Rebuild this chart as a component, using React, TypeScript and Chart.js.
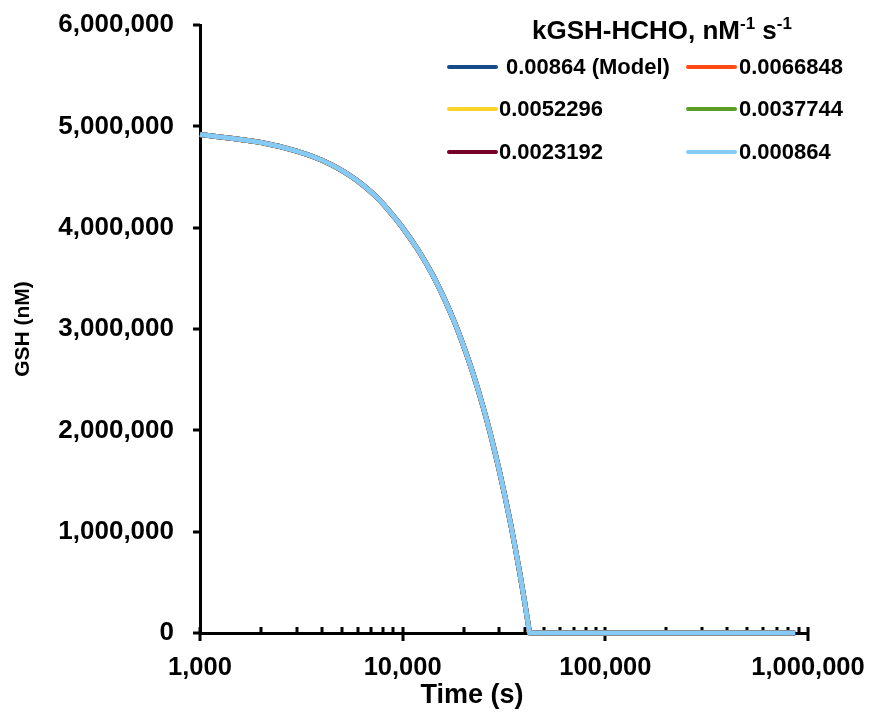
import { useEffect, useRef } from "react";
import { Chart, registerables } from "chart.js";

Chart.register(...registerables);

// Simulated time points (s)
const timeSeconds = [
  1000, 2000, 3000, 4000, 5000, 6000, 7000, 8000, 9000, 10000,
  12000, 14000, 16000, 18000, 20000, 22000, 24000, 26000, 28000, 30000,
  32000, 34000, 36000, 38000, 40000, 42000, 42300, 50000, 100000, 200000,
  500000, 864000,
];

// GSH (nM); the six rate-constant runs coincide over this range
const gshNanomolar = [
  4920000, 4840000, 4755000, 4665000, 4565000, 4460000, 4350000, 4235000, 4115000, 4000000,
  3770000, 3540000, 3305000, 3070000, 2830000, 2590000, 2345000, 2100000, 1850000, 1600000,
  1345000, 1090000, 830000, 570000, 305000, 35000, 0, 0, 0, 0,
  0, 0,
];

const seriesLabels = [
  "0.00864 (Model)",
  "0.0066848",
  "0.0052296",
  "0.0037744",
  "0.0023192",
  "0.000864",
];
const seriesColors = ["#134C88", "#FF4A14", "#FFD42A", "#5A9E23", "#760026", "#86CBF5"];
const seriesValues = [gshNanomolar, gshNanomolar, gshNanomolar, gshNanomolar, gshNanomolar, gshNanomolar];

const yTickValues = [0, 1000000, 2000000, 3000000, 4000000, 5000000, 6000000];
const xMajorTicks = [1000, 10000, 100000, 1000000];

const FONT = '"Liberation Sans", Arial, sans-serif';

const isDecade = (v: number) => {
  const lg = Math.log10(v);
  return Math.abs(lg - Math.round(lg)) < 1e-9;
};

// Tick marks: y ticks point outward, x minor ticks point inward, x major ticks cross the axis
const axisTicksPlugin = {
  id: "axisTicks",
  beforeDatasetsDraw(chart: any) {
    const { ctx, chartArea, scales } = chart;
    const x = scales.x;
    const y = scales.y;
    ctx.save();
    ctx.fillStyle = "#000";
    for (const v of yTickValues) {
      const py = Math.round(y.getPixelForValue(v));
      ctx.fillRect(chartArea.left - 7, py - 1.5, 7, 3);
    }
    const base = chartArea.bottom;
    for (let exp = 3; exp < 6; exp++) {
      for (let m = 2; m <= 9; m++) {
        const px = x.getPixelForValue(m * Math.pow(10, exp));
        ctx.fillRect(Math.round(px) - 1.5, base - 6, 3, 6);
      }
    }
    for (const v of xMajorTicks) {
      const px = x.getPixelForValue(v);
      ctx.fillRect(Math.round(px) - 1.5, base - 6, 3, 14);
    }
    ctx.restore();
  },
};

// x-axis title and the two-column rate-constant legend
const annotationPlugin = {
  id: "legendAndTitle",
  afterDraw(chart: any) {
    const ctx = chart.ctx;
    ctx.save();
    ctx.fillStyle = "#000";
    ctx.textBaseline = "alphabetic";
    ctx.textAlign = "center";
    ctx.font = `bold 27px ${FONT}`;
    ctx.fillText("Time (s)", 472, 703);

    // legend title with superscripts
    ctx.textAlign = "left";
    let tx = 532;
    const base = 39;
    const parts: [string, boolean][] = [
      ["kGSH-HCHO, nM", false],
      ["-1", true],
      [" s", false],
      ["-1", true],
    ];
    for (const [text, sup] of parts) {
      ctx.font = sup ? `bold 17px ${FONT}` : `bold 26px ${FONT}`;
      ctx.fillText(text, tx, sup ? base - 10 : base);
      tx += ctx.measureText(text).width;
    }

    const lineX = [449, 688];
    const textX = [[506, 499, 499], [739, 739, 739]];
    const rowY = [67, 109, 152];
    ctx.font = `bold 22px ${FONT}`;
    ctx.textBaseline = "middle";
    chart.data.datasets.forEach((ds: any, i: number) => {
      const col = i % 2;
      const row = Math.floor(i / 2);
      const yy = rowY[row];
      ctx.strokeStyle = ds.borderColor;
      ctx.lineWidth = 4;
      ctx.lineCap = "round";
      ctx.beginPath();
      ctx.moveTo(lineX[col], yy);
      ctx.lineTo(lineX[col] + 47, yy);
      ctx.stroke();
      ctx.fillText(ds.label, textX[col][row], yy + 1);
    });
    ctx.restore();
  },
};

export default function App() {
  const canvasRef = useRef<HTMLCanvasElement | null>(null);

  useEffect(() => {
    const canvas = canvasRef.current;
    if (!canvas) return;
    const chart = new Chart(canvas, {
      type: "line",
      data: {
        datasets: seriesLabels.map((label, i) => ({
          label,
          data: timeSeconds.map((t, k) => ({ x: t, y: seriesValues[i][k] })),
          borderColor: seriesColors[i],
          backgroundColor: seriesColors[i],
          borderWidth: 5,
          pointRadius: 0,
          cubicInterpolationMode: "monotone",
          order: seriesLabels.length - 1 - i,
          clip: false,
        })),
      },
      options: {
        responsive: false,
        animation: false,
        devicePixelRatio: 1,
        layout: { padding: { left: 0, top: 25, right: 65, bottom: 0 } },
        plugins: {
          legend: { display: false },
          tooltip: { enabled: false },
        },
        scales: {
          x: {
            type: "logarithmic",
            min: 1000,
            max: 1000000,
            grid: { display: false, drawTicks: false },
            border: { display: true, color: "#000", width: 3 },
            afterFit: (s: any) => {
              s.height = 80;
              s.paddingLeft = 0;
              s.paddingRight = 0;
            },
            ticks: {
              autoSkip: false,
              maxRotation: 0,
              padding: 20,
              color: "#000",
              font: { family: FONT, size: 25.5, weight: "bold" },
              callback: (v: any) => (isDecade(Number(v)) ? Number(v).toLocaleString("en-US") : ""),
            },
          },
          y: {
            type: "linear",
            min: 0,
            max: 6000000,
            grid: { display: false, drawTicks: false },
            border: { display: true, color: "#000", width: 3 },
            afterFit: (s: any) => {
              s.width = 200;
              s.paddingTop = 0;
              s.paddingBottom = 0;
            },
            ticks: {
              stepSize: 1000000,
              padding: 26,
              color: "#000",
              font: { family: FONT, size: 26, weight: "bold" },
              callback: (v: any) => Number(v).toLocaleString("en-US"),
            },
            title: {
              display: true,
              text: "GSH (nM)",
              color: "#000",
              padding: { top: 11, bottom: 0 },
              font: { family: FONT, size: 21, weight: "bold" },
            },
          },
        },
      },
      plugins: [axisTicksPlugin, annotationPlugin],
    });
    return () => chart.destroy();
  }, []);

  return (
    <div style={{ position: "absolute", left: 0, top: 0, width: 873, height: 713, background: "#fff" }}>
      <canvas ref={canvasRef} width={873} height={713} style={{ display: "block" }} />
    </div>
  );
}
